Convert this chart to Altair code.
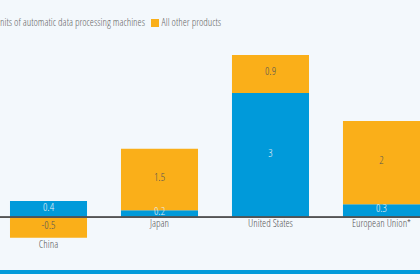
import altair as alt
import pandas as pd

countries = ["China", "Japan", "United States", "European Union*"]
adp_values = [0.4, 0.17, 3.03, 0.32]
other_values = [-0.5, 1.5, 0.93, 2.03]
series_names = ["Parts and units of automatic data processing machines", "All other products"]
series_colors = ["#009ADA", "#FAAF19"]
grid_values = [-1, 1, 2, 3, 4]

FONT = "Open Sans Condensed Light, DejaVu Sans Condensed, sans-serif"
BG = "#F3F8FC"
TXT = "#555555"

rows = []
for i, c in enumerate(countries):
    rows.append({"country": c, "series": series_names[0], "order": 0, "value": adp_values[i]})
    rows.append({"country": c, "series": series_names[1], "order": 1, "value": other_values[i]})
df = pd.DataFrame(rows)
legend_df = pd.DataFrame({"series": series_names, "order": [0, 1]})

x_scale = alt.Scale(domain=countries, paddingInner=0.306, paddingOuter=0.045, align=1)
y_scale = alt.Scale(domain=[-1.53, 5.30], nice=False, zero=False)
x_enc = alt.X("country:N", scale=x_scale, axis=None, sort=countries)

base = alt.Chart(df).transform_stack(
    stack="value", groupby=["country"], sort=[alt.SortField("order")], as_=["y0", "y1"]
)

grid = alt.Chart(df).mark_bar(opacity=0).encode(
    y=alt.Y("value:Q", scale=y_scale,
            axis=alt.Axis(values=grid_values, grid=True, gridDash=[2, 2], gridColor="#CCCCCC",
                          gridWidth=1, labels=False, ticks=False, domain=False, title=None)),
)

bars = base.mark_bar().encode(
    x=x_enc,
    y=alt.Y("y0:Q", scale=y_scale, axis=None),
    y2="y1:Q",
    color=alt.Color("series:N", scale=alt.Scale(domain=series_names, range=series_colors), legend=None),
)

values_text = base.transform_calculate(
    mid="(datum.y0 + datum.y1) / 2",
    lab="replace(format(datum.value, '.1~f'), '\u2212', '-')",
).mark_text(font=FONT, fontSize=11, baseline="middle", dy=-1.5).encode(
    x=x_enc,
    y=alt.Y("mid:Q", scale=y_scale, axis=None),
    text="lab:N",
    color=alt.condition(alt.datum.order == 0, alt.value("#E8EEF3"), alt.value(TXT)),
)

zero_rule = alt.Chart(df).mark_rule(color="#555555", strokeWidth=1).encode(
    y=alt.datum(0, scale=y_scale),
    x=alt.value(0), x2=alt.value(420),
)

cat_labels = alt.Chart(df).transform_calculate(
    neg="min(datum.value, 0)"
).transform_aggregate(
    low="sum(neg)", groupby=["country"]
).mark_text(font=FONT, fontSize=10.5, baseline="top", dy=2, color=TXT).encode(
    x=x_enc,
    y=alt.Y("low:Q", scale=y_scale, axis=None),
    text="country:N",
)

footer = alt.Chart(df).mark_rule(color="#009ADA", strokeWidth=4).encode(
    y=alt.value(272), x=alt.value(0), x2=alt.value(420)
)

leg1 = alt.Chart(legend_df).transform_filter(alt.datum.order == 0).mark_text(
    font=FONT, fontSize=10.5, align="right", baseline="middle", color="#666666"
).encode(x=alt.value(145), y=alt.value(23), text="series:N")

leg2_sym = alt.Chart(legend_df).transform_filter(alt.datum.order == 1).mark_square(
    size=64, opacity=1, color=series_colors[1]
).encode(x=alt.value(155), y=alt.value(23))

leg2 = alt.Chart(legend_df).transform_filter(alt.datum.order == 1).mark_text(
    font=FONT, fontSize=10.5, align="left", baseline="middle", color="#666666"
).encode(x=alt.value(161.5), y=alt.value(23), text="series:N")

chart = alt.layer(
    grid, bars, zero_rule, values_text, cat_labels, footer, leg1, leg2_sym, leg2
).properties(
    width=420, height=280,
    autosize=alt.AutoSizeParams(type="none"),
    padding=0,
).configure(background=BG).configure_view(stroke=None)

chart.save("out.html", embed_options={"renderer": "svg", "actions": False})
